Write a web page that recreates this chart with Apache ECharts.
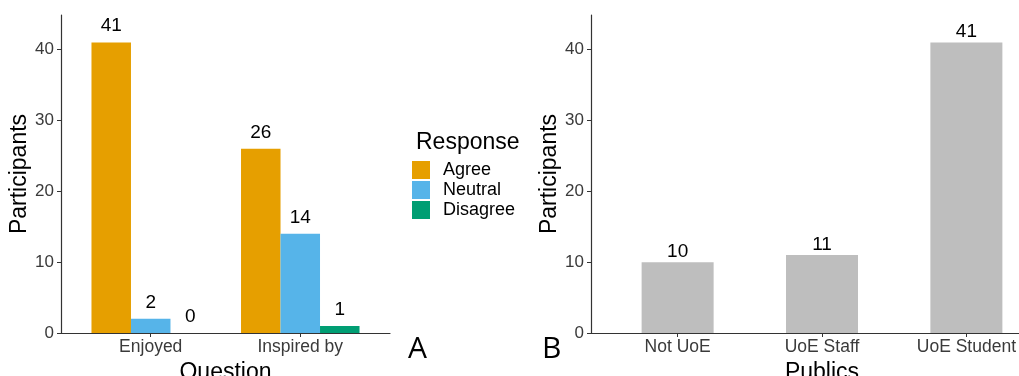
<!DOCTYPE html>
<html><head><meta charset="utf-8">
<script src="https://cdn.jsdelivr.net/npm/echarts@6/dist/echarts.min.js"></script>
<style>html,body{margin:0;padding:0;background:#fff}#c{width:1019px;height:376px}</style>
</head><body><div id="c"></div>
<script>
// Panel A data
const questions = ['Enjoyed', 'Inspired by'];
const responses = ['Agree', 'Neutral', 'Disagree'];
const agree = [41, 26];
const neutral = [2, 14];
const disagree = [0, 1];
// Panel B data
const publics = ['Not UoE', 'UoE Staff', 'UoE Student'];
const publicCounts = [10, 11, 41];
const yTicks = [0, 10, 20, 30, 40];

const colors = ['#E69F00', '#56B4E9', '#009E73'];
const FONT = 'Liberation Sans';
const pos = (arr) => arr.map((v, i) => [i + 1, v]);

function yAxis(gi) {
  return {
    gridIndex: gi, type: 'value', min: 0, max: 44.9,
    name: 'Participants', nameLocation: 'middle', nameGap: 30,
    nameTextStyle: {fontSize: 23, color: '#000', fontFamily: FONT},
    axisLine: {show: true, lineStyle: {color: '#333', width: 1.2}},
    axisTick: {show: true, length: 4, customValues: yTicks, lineStyle: {color: '#333'}},
    axisLabel: {customValues: yTicks, fontSize: 17, color: '#3a3a3a', fontFamily: FONT, margin: 7},
    splitLine: {show: false}
  };
}
function xAxis(gi, cats, name) {
  const vals = cats.map((c, i) => i + 1);
  return {
    gridIndex: gi, type: 'value', min: 0.4, max: cats.length + 0.6,
    name: name, nameLocation: 'middle', nameGap: 23,
    nameTextStyle: {fontSize: 23, color: '#000', fontFamily: FONT},
    axisLine: {show: true, onZero: false, lineStyle: {color: '#333', width: 1.2}},
    axisTick: {show: true, length: 4, customValues: vals, lineStyle: {color: '#333'}},
    axisLabel: {customValues: vals, fontSize: 17.5, color: '#3a3a3a', fontFamily: FONT, margin: 5,
      formatter: (v) => cats[Math.round(v) - 1]},
    splitLine: {show: false}
  };
}
const lblA = {show: true, position: 'top', distance: 7, fontSize: 19, color: '#000', fontFamily: FONT,
  formatter: (p) => p.value[1]};

const option = {
  animation: false,
  backgroundColor: '#fff',
  textStyle: {fontFamily: FONT},
  title: [
    {text: 'Response', left: 411, top: 126, textStyle: {fontSize: 23, fontWeight: 'normal', color: '#000', fontFamily: FONT}},
    {text: 'A', left: 403, top: 329, textStyle: {fontSize: 30, fontWeight: 'normal', color: '#000', fontFamily: 'Open Sans'}},
    {text: 'B', left: 537, top: 329, textStyle: {fontSize: 30, fontWeight: 'normal', color: '#000', fontFamily: 'Open Sans'}}
  ],
  legend: {
    data: responses, orient: 'vertical', left: 412, top: 161, padding: 0,
    itemWidth: 18, itemHeight: 18, itemGap: 2, icon: 'rect',
    textStyle: {fontSize: 18, color: '#000', fontFamily: FONT, padding: [0, 0, 0, 8]}
  },
  grid: [
    {left: 61, top: 15, width: 329, height: 318, containLabel: false, outerBoundsMode: 'none'},
    {left: 591, top: 15, width: 462, height: 318, containLabel: false, outerBoundsMode: 'none'}
  ],
  xAxis: [xAxis(0, questions, 'Question'), xAxis(1, publics, 'Publics')],
  yAxis: [yAxis(0), yAxis(1)],
  series: [
    {name: responses[0], type: 'bar', xAxisIndex: 0, yAxisIndex: 0, data: pos(agree), barWidth: 39.5, barGap: '0%', itemStyle: {color: colors[0]}, label: lblA},
    {name: responses[1], type: 'bar', xAxisIndex: 0, yAxisIndex: 0, data: pos(neutral), barWidth: 39.5, barGap: '0%', itemStyle: {color: colors[1]}, label: lblA},
    {name: responses[2], type: 'bar', xAxisIndex: 0, yAxisIndex: 0, data: pos(disagree), barWidth: 39.5, barGap: '0%', itemStyle: {color: colors[2]}, label: lblA},
    {name: 'Publics', type: 'bar', xAxisIndex: 1, yAxisIndex: 1, data: pos(publicCounts), barWidth: 72, itemStyle: {color: '#bebebe'},
      label: {show: true, position: 'top', distance: 1, fontSize: 19, color: '#000', fontFamily: FONT, formatter: (p) => p.value[1]}}
  ]
};
const chart = echarts.init(document.getElementById('c'), null, {renderer: 'canvas'});
chart.setOption(option);
</script></body></html>
